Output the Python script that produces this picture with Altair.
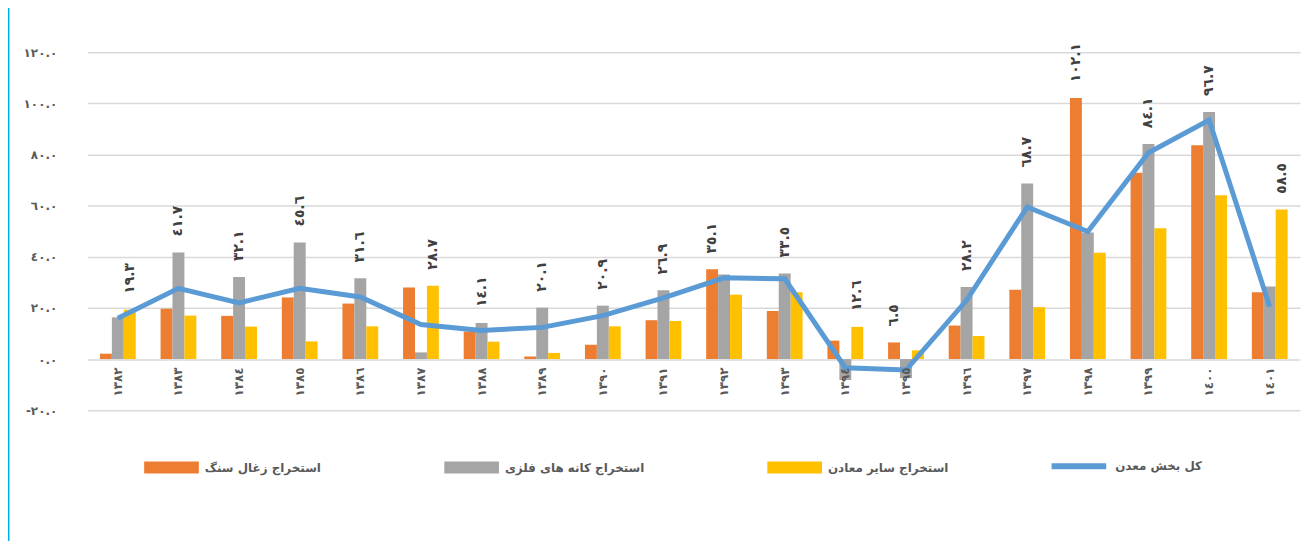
import altair as alt
import pandas as pd

years = ["١٣٨٢", "١٣٨٣", "١٣٨٤", "١٣٨٥", "١٣٨٦", "١٣٨٧", "١٣٨٨", "١٣٨٩", "١٣٩٠", "١٣٩١",
         "١٣٩٢", "١٣٩٣", "١٣٩٤", "١٣٩٥", "١٣٩٦", "١٣٩٧", "١٣٩٨", "١٣٩٩", "١٤٠٠", "١٤٠١"]

series_names = ["استخراج زغال سنگ", "استخراج کانه های فلزی", "استخراج سایر معادن"]
line_name = "کل بخش معدن"

coal = [2.1, 19.7, 16.9, 24.1, 21.7, 28.0, 10.8, 1.0, 5.6, 15.2,
        35.1, 18.8, 7.2, 6.5, 13.1, 27.1, 102.1, 72.9, 83.7, 26.1]
metal = [16.3, 41.7, 32.1, 45.6, 31.6, 2.6, 14.1, 20.1, 20.9, 26.9,
         33.1, 33.5, -8.2, -7.5, 28.2, 68.7, 49.5, 84.1, 96.7, 28.4]
other = [19.3, 17.0, 12.7, 6.9, 12.8, 28.7, 6.8, 2.4, 12.8, 14.9,
         25.2, 26.1, 12.6, 3.4, 9.0, 20.3, 41.6, 51.2, 64.1, 58.5]
total = [16.0, 27.7, 22.0, 27.7, 24.3, 13.5, 11.2, 12.4, 17.0, 23.9,
         31.8, 31.4, -3.4, -4.3, 23.0, 59.5, 49.9, 80.7, 93.5, 20.5]

label_text = ["١٩.٣", "٤١.٧", "٣٢.١", "٤٥.٦", "٣١.٦", "٢٨.٧", "١٤.١", "٢٠.١", "٢٠.٩", "٢٦.٩",
              "٣٥.١", "٣٣.٥", "١٢.٦", "٦.٥", "٢٨.٢", "٦٨.٧", "١٠٢.١", "٨٤.١", "٩٦.٧", "٥٨.٥"]

y_ticks = [-20, 0, 20, 40, 60, 80, 100, 120]
y_tick_labels = ["-٢٠.٠", "٠.٠", "٢٠.٠", "٤٠.٠", "٦٠.٠", "٨٠.٠", "١٠٠.٠", "١٢٠.٠"]

colors = ["#ED7D31", "#A5A5A5", "#FFC000"]
line_color = "#5B9BD5"
FONT = "DejaVu Sans"

# ---- tables ----
rows = []
for i, y in enumerate(years):
    for name, vals in zip(series_names, [coal, metal, other]):
        rows.append({"year": y, "series": name, "value": vals[i]})
bar_df = pd.DataFrame(rows)

lab_rows = []
for i, y in enumerate(years):
    vals = [coal[i], metal[i], other[i]]
    k = max(range(3), key=lambda j: vals[j])
    lab_rows.append({"year": y, "series": series_names[k], "value": vals[k], "text": label_text[i]})
lab_df = pd.DataFrame(lab_rows)

line_df = pd.DataFrame({"year": years, "total": total, "name": [line_name] * len(years)})

# y label expression built from tick lists
expr = "''"
for v, t in zip(reversed(y_ticks), reversed(y_tick_labels)):
    expr = f"datum.value == {v} ? '{t}' : ({expr})"

x_enc = alt.X("year:N", sort=years,
              scale=alt.Scale(paddingInner=0.41, paddingOuter=0.205),
              axis=alt.Axis(title=None, orient="bottom", offset=-51.4, domain=False, ticks=False,
                            labelAngle=270, labelAlign="right", labelBaseline="middle",
                            labelPadding=8, labelFont=FONT, labelFontSize=12,
                            labelFontWeight="bold", labelColor="#595959", grid=False,
                            zindex=2))
y_enc = alt.Y("value:Q", scale=alt.Scale(domain=[-20, 120], nice=False),
              axis=alt.Axis(title=None, values=y_ticks, labelExpr=expr, domain=False, ticks=False,
                            grid=True, gridColor="#D9D9D9", gridWidth=1.5,
                            labelPadding=31, labelFont=FONT, labelFontSize=12,
                            labelFontWeight="bold", labelColor="#595959"))
xoff = alt.XOffset("series:N", scale=alt.Scale(domain=series_names))

bars = alt.Chart(bar_df).mark_bar().encode(
    x=x_enc,
    xOffset=xoff,
    y=y_enc,
    color=alt.Color("series:N", scale=alt.Scale(domain=series_names, range=colors),
                    legend=alt.Legend(title=None, orient="none", legendX=57, legendY=390,
                                      direction="horizontal", columns=3,
                                      symbolType="M-1,-0.22H1V0.22H-1Z", symbolSize=3025,
                                      symbolStrokeWidth=0, symbolOpacity=1,
                                      labelFont=FONT, labelFontSize=12, labelFontWeight="bold",
                                      labelColor="#595959", labelOffset=6, columnPadding=123,
                                      labelLimit=300)),
)

labels = alt.Chart(lab_df).mark_text(angle=270, align="left", baseline="middle", dx=16,
                                     font=FONT, fontSize=14, fontWeight="bold",
                                     color="#404040").encode(
    x=alt.X("year:N", sort=years),
    xOffset=xoff,
    y=alt.Y("value:Q"),
    text="text:N",
)

line = alt.Chart(line_df).mark_line(strokeWidth=5).encode(
    x=alt.X("year:N", sort=years),
    y=alt.Y("total:Q"),
    stroke=alt.Stroke("name:N", scale=alt.Scale(domain=[line_name], range=[line_color]),
                      legend=alt.Legend(title=None, orient="none", legendX=967, legendY=386,
                                        symbolType="M-1,0H1", symbolSize=3025,
                                        symbolStrokeWidth=6,
                                        labelFont=FONT, labelFontSize=12, labelFontWeight="bold",
                                        labelColor="#595959", labelOffset=6, labelLimit=300)),
)

border = alt.Chart(pd.DataFrame({"a": [0]})).mark_rule(color="#00B0F0", strokeWidth=2).encode(
    x=alt.value(-79.5), y=alt.value(-60), y2=alt.value(500)
)

chart = alt.layer(bars, line, labels, border).resolve_scale(
    color="independent", stroke="independent"
).properties(
    width=1220, height=360,
    autosize=alt.AutoSizeParams(type="none"),
    padding={"left": 80, "top": 43, "right": 5, "bottom": 130},
).configure_view(stroke=None)

chart.save("out.html", embed_options={"renderer": "svg", "actions": False})
